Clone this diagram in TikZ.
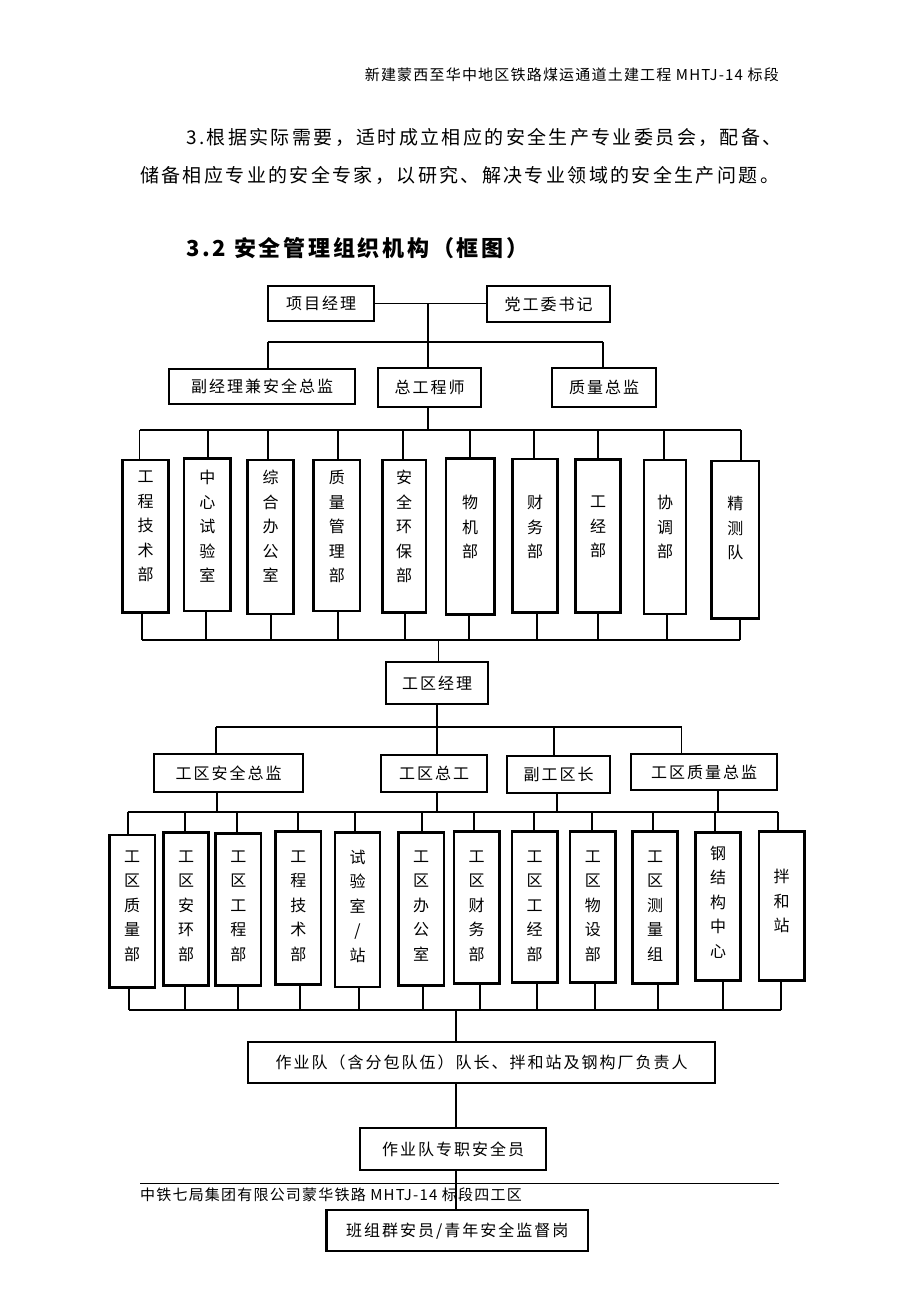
\documentclass[tikz,border=0pt]{standalone}
\usepackage{fontspec}
\setmainfont{Noto Sans CJK SC}
\newfontfamily\cjkbox{Noto Sans CJK SC}[LetterSpace=12.5]
\newfontfamily\cjkvert{Noto Sans CJK SC}
\newfontfamily\cjkhead{Noto Sans CJK SC}[LetterSpace=8]
\tikzset{
  box/.style={draw, line width=2.5pt, inner sep=0pt, text height=12pt, text depth=0pt, font=\cjkbox\fontsize{16}{18}\selectfont},
  vbox/.style={draw, line width=2.5pt, inner sep=0pt},
  vtext/.style={align=center, inner sep=0pt, font=\cjkvert\fontsize{16}{24.5}\selectfont},
  conn/.style={line width=1.8pt},
  plain/.style={inner sep=0pt},
}
\newcommand\topy{0}
\newcommand\boty{0}
% name, x1, y1, x2, y2, text
\newcommand\hbx[6]{%
  \pgfmathsetmacro\bcx{(#2+#4)/2}%
  \pgfmathsetmacro\bcy{(#3+#5)/2}%
  \pgfmathsetmacro\bw{#4-#2}%
  \pgfmathsetmacro\bh{#5-#3}%
  \node[box, minimum width=\bw pt, minimum height=\bh pt] (#1) at (\bcx,\bcy) {#6};
}
% name, x1, y1, x2, y2, text y, text, top connector x, bottom connector x
\newcommand\vdept[9]{%
  \pgfmathsetmacro\bcx{(#2+#4)/2}%
  \pgfmathsetmacro\bcy{(#3+#5)/2}%
  \pgfmathsetmacro\bw{#4-#2}%
  \pgfmathsetmacro\bh{#5-#3}%
  \node[vbox, minimum width=\bw pt, minimum height=\bh pt] (#1) at (\bcx,\bcy) {};
  \node[vtext] (#1t) at (\bcx,#6) {#7};
  \coordinate (#1a) at (#8,\topy);
  \coordinate (#1b) at (#9,\boty);
  \draw[conn] (#1a) -- (#1a |- #1.north);
  \draw[conn] (#1.south -| #1b) -- (#1b);
}
\begin{document}
\begin{tikzpicture}[x=1pt,y=-1pt]
\useasboundingbox (0,0) rectangle (920,1302);
\fill[white] (0,0) rectangle (920,1302);

% page texts
\node[plain, anchor=east, font=\cjkhead\fontsize{15}{18}\selectfont] (hdr) at (779,75) {新建蒙西至华中地区铁路煤运通道土建工程 MHTJ-14 标段};
\node[plain, anchor=west, font=\cjkbox\fontsize{19}{22}\selectfont] (p1) at (186,137) {3.根据实际需要，适时成立相应的安全生产专业委员会，配备、};
\node[plain, anchor=west, font=\cjkbox\fontsize{19}{22}\selectfont] (p2) at (140,175) {储备相应专业的安全专家，以研究、解决专业领域的安全生产问题。};
\node[plain, anchor=west, font=\cjkbox\bfseries\fontsize{22}{26}\selectfont] (ttl) at (186,248) {3.2 安全管理组织机构（框图）};

% top level
\hbx{pm}{268}{286}{374}{321}{项目经理}
\hbx{party}{487}{286}{610}{322}{党工委书记}
\hbx{dep}{169}{369}{355}{404}{副经理兼安全总监}
\hbx{ce}{378}{368}{481}{407}{总工程师}
\hbx{qd}{552}{368}{656}{407}{质量总监}

\coordinate (j1) at (428,303.5);
\draw[conn] (pm.east) -- (pm.east -| party.west);
\draw[conn] (j1) -- (j1 |- ce.north);
\coordinate (b1L) at (268,342);
\coordinate (b1R) at (603,342);
\draw[conn] (b1L) -- (b1R);
\draw[conn] (b1L) -- (b1L |- dep.north);
\draw[conn] (b1R) -- (b1R |- qd.north);

% row 1 departments
\renewcommand\topy{430}
\renewcommand\boty{640}
\vdept{d1}{122.7}{460}{168.3}{612.7}{526.5}{工\\程\\技\\术\\部}{139.5}{142}
\vdept{d2}{184}{458.5}{230.7}{611}{526.5}{中\\心\\试\\验\\室}{207.7}{206}
\vdept{d3}{247.7}{460}{293.7}{614}{526.5}{综\\合\\办\\公\\室}{268.3}{270.7}
\vdept{d4}{313.7}{460}{360}{611}{526.5}{质\\量\\管\\理\\部}{337.7}{338}
\vdept{d5}{382.3}{460}{426}{612.3}{526.5}{安\\全\\环\\保\\部}{402.7}{405.3}
\vdept{d6}{446}{458.3}{494.3}{614.3}{527}{物\\机\\部}{470}{469.3}
\vdept{d7}{512.3}{459}{557.7}{612.7}{527}{财\\务\\部}{534}{536.7}
\vdept{d8}{575.7}{459.3}{620.7}{612.7}{527}{工\\经\\部}{597.7}{597.7}
\vdept{d9}{644}{460}{686}{614}{527}{协\\调\\部}{664}{667.3}
\vdept{d10}{711.7}{461}{759}{618.3}{528}{精\\测\\队}{740.7}{740}
\draw[conn] (d1a) -- (d10a);
\draw[conn] (d1b) -- (d10b);
\coordinate (j2) at (428,430);
\draw[conn] (ce.south -| j2) -- (j2);

% work area manager
\hbx{wm}{386}{662}{488}{704}{工区经理}
\coordinate (j3) at (438.5,640);
\draw[conn] (j3) -- (j3 |- wm.north);

% row 2
\hbx{g1}{154}{754}{303}{792}{工区安全总监}
\hbx{g2}{381}{755}{487}{792}{工区总工}
\hbx{g3}{507}{756}{610}{793}{副工区长}
\hbx{g4}{631}{754}{777}{790}{工区质量总监}
\coordinate (j4) at (437,727);
\draw[conn] (wm.south -| j4) -- (j4);
\coordinate (k1) at (216,727);
\coordinate (k2) at (437,727);
\coordinate (k3) at (554,727);
\coordinate (k4) at (681.5,727);
\draw[conn] (k1) -- (k4);
\draw[conn] (k1) -- (k1 |- g1.north);
\draw[conn] (k2) -- (k2 |- g2.north);
\draw[conn] (k3) -- (k3 |- g3.north);
\draw[conn] (k4) -- (k4 |- g4.north);
\coordinate (m1) at (217,812);
\coordinate (m2) at (437,812);
\coordinate (m3) at (557,812);
\coordinate (m4) at (718,812);
\draw[conn] (g1.south -| m1) -- (m1);
\draw[conn] (g2.south -| m2) -- (m2);
\draw[conn] (g3.south -| m3) -- (m3);
\draw[conn] (g4.south -| m4) -- (m4);

% row 3 departments
\renewcommand\topy{812}
\renewcommand\boty{1010}
\vdept{e1}{109.3}{835}{155}{987.7}{906}{工\\区\\质\\量\\部}{127.7}{128.6}
\vdept{e2}{163.3}{832.7}{208.7}{985.7}{906}{工\\区\\安\\环\\部}{185}{185}
\vdept{e3}{215.7}{833.3}{261}{985.7}{906}{工\\区\\工\\程\\部}{236.7}{238}
\vdept{e4}{275.7}{831.7}{321}{984.3}{906}{工\\程\\技\\术\\部}{298.3}{300}
\vdept{e5}{335}{832.7}{380}{987}{906}{试\\验\\室\\/\\站}{355}{359}
\vdept{e6}{398.3}{832.7}{444}{985.7}{906}{工\\区\\办\\公\\室}{421.7}{422.6}
\vdept{e7}{454}{831.7}{499.3}{983.3}{906}{工\\区\\财\\务\\部}{474.3}{480}
\vdept{e8}{512}{831.7}{557.3}{982.3}{906}{工\\区\\工\\经\\部}{534}{537}
\vdept{e9}{570}{831.7}{615.7}{982.3}{906}{工\\区\\物\\设\\部}{591.7}{595}
\vdept{e10}{632.7}{831.7}{677.7}{983.3}{906}{工\\区\\测\\量\\组}{653.3}{657.6}
\vdept{e11}{695.7}{832.7}{740.7}{980.7}{902}{钢\\结\\构\\中\\心}{715}{723}
\vdept{e12}{759}{831.7}{804.3}{980.7}{901}{拌\\和\\站}{777.7}{781}
\draw[conn] (e1a) -- (e12a);
\draw[conn] (e1b) -- (e12b);

% bottom chain
\hbx{zy}{248}{1042}{715}{1083}{作业队（含分包队伍）队长、拌和站及钢构厂负责人}
\hbx{zs}{360}{1128}{546}{1170}{作业队专职安全员}
\hbx{bz}{326.5}{1210}{588}{1251}{班组群安员/青年安全监督岗}
\coordinate (j5) at (456,1010);
\draw[conn] (j5) -- (j5 |- zy.north);
\draw[conn] (zy.south -| j5) -- (zs.north -| j5);
\draw[conn] (zs.south -| j5) -- (bz.north -| j5);

% footer
\coordinate (fL) at (140,1183.5);
\coordinate (fR) at (779,1183.5);
\draw[line width=1pt] (fL) -- (fR);
\node[plain, anchor=west, font=\cjkhead\fontsize{15}{18}\selectfont] (ftr) at (140,1195) {中铁七局集团有限公司蒙华铁路 MHTJ-14 标段四工区};
\end{tikzpicture}
\end{document}
